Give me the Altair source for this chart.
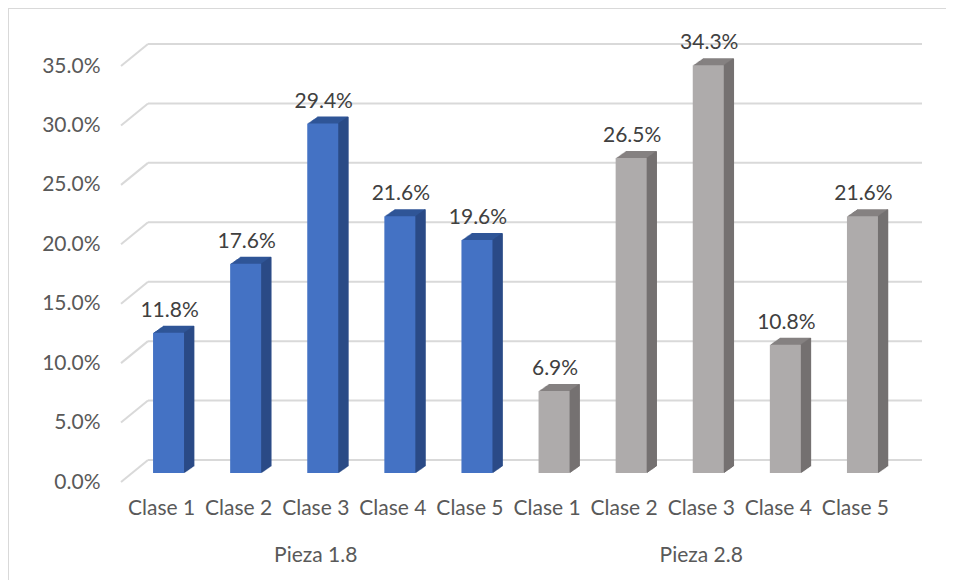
import altair as alt
import pandas as pd

# ---- data ----
piezas = ["Pieza 1.8"] * 5 + ["Pieza 2.8"] * 5
clases = ["Clase 1", "Clase 2", "Clase 3", "Clase 4", "Clase 5"] * 2
valores = [0.118, 0.176, 0.294, 0.216, 0.196, 0.069, 0.265, 0.343, 0.108, 0.216]
y_ticks = [0.0, 0.05, 0.10, 0.15, 0.20, 0.25, 0.30, 0.35]
grupos = ["Pieza 1.8", "Pieza 2.8"]
grupo_centro = ["Clase 3", "Clase 3"]

df = pd.DataFrame({"pieza": piezas, "clase": clases, "valor": valores})
df["key"] = df["pieza"] + "|" + df["clase"]
keys = list(df["key"])

df_grid = pd.DataFrame({"v": y_ticks})
df_grp = pd.DataFrame({"pieza": grupos, "key": [g + "|" + c for g, c in zip(grupos, grupo_centro)]})
df_one = pd.DataFrame({"a": [0]})

W, H = 771, 416
FONT = "Lato"
xs = alt.Scale(domain=keys, paddingInner=0, paddingOuter=0)
ys = alt.Scale(domain=[0, 0.35], nice=False, zero=True)

X_AXIS = alt.Axis(title=None, labelExpr="split(datum.label, '|')[1]", labelAngle=0, ticks=False,
                  tickSize=0, domain=False, grid=False, labelPadding=26, labelBaseline="middle",
                  labelFontSize=21, labelColor="#595959", labelFont=FONT)
Y_AXIS = alt.Axis(title=None, values=y_ticks, format=".1%", ticks=False, tickSize=0, domain=False,
                  grid=False, labelPadding=23, labelFontSize=21, labelColor="#595959", labelFont=FONT)

BLUE_F, BLUE_T, BLUE_S = "#4472C4", "#2F5597", "#2B4B86"
GRAY_F, GRAY_T, GRAY_S = "#AEABAB", "#858181", "#757171"

def col(front, other):
    return alt.condition(alt.datum.pieza == "Pieza 1.8", alt.value(front), alt.value(other))

X = alt.X("key:N", scale=xs, axis=X_AXIS, title=None)
Y = alt.Y("valor:Q", scale=ys, axis=Y_AXIS, title=None)
YG = alt.Y("v:Q", scale=ys, axis=Y_AXIS, title=None)

layers = []

# border of chart area (left and top edges)
layers.append(
    alt.Chart(df_one).mark_rule(color="#D9D9D9", strokeWidth=1).encode(
        x=alt.value(-114.5), y=alt.value(-58), y2=alt.value(600)
    )
)
layers.append(
    alt.Chart(df_one).mark_rule(color="#D9D9D9", strokeWidth=1).encode(
        x=alt.value(-115), x2=alt.value(900), y=alt.value(-57.5)
    )
)

# back wall gridlines
layers.append(
    alt.Chart(df_grid).mark_rule(color="#D9D9D9", strokeWidth=2, yOffset=-22).encode(
        y=YG, x=alt.value(25), x2=alt.value(799),
    )
)
# left-side diagonals
layers.append(
    alt.Chart(df_grid).mark_rule(color="#D9D9D9", strokeWidth=2, y2Offset=-22).encode(
        y=YG, y2="v:Q", x=alt.value(-2), x2=alt.value(25),
    )
)

# top faces (extrusion)
for k in range(1, 11):
    dy = -9 - 0.7 * k
    layers.append(
        alt.Chart(df).mark_bar(width=31, xOffset=7 + k, yOffset=dy, y2Offset=dy).encode(
            x=X, y=Y, color=col(BLUE_T, GRAY_T)
        )
    )
# side faces
for k in range(0, 10):
    dy = -9 - 0.7 * (k + 0.5)
    layers.append(
        alt.Chart(df).mark_bar(width=1.6, xOffset=7 + 15.5 + k + 0.5, yOffset=dy, y2Offset=dy).encode(
            x=X, y=Y, color=col(BLUE_S, GRAY_S)
        )
    )
# front faces
layers.append(
    alt.Chart(df).mark_bar(width=31, xOffset=7, yOffset=-9, y2Offset=-9).encode(
        x=X, y=Y, color=col(BLUE_F, GRAY_F)
    )
)
# data labels
layers.append(
    alt.Chart(df).mark_text(dx=8, dy=-25, baseline="alphabetic", fontSize=21,
                            color="#404040", font=FONT).encode(
        x=X, y=Y, text=alt.Text("valor:Q", format=".1%")
    )
)
# group labels
layers.append(
    alt.Chart(df_grp).mark_text(baseline="middle", fontSize=21, color="#595959", font=FONT).encode(
        x=X, y=alt.value(H + 74), text="pieza:N"
    )
)

chart = alt.layer(*layers).properties(
    width=W, height=H,
    autosize=alt.AutoSizeParams(type="none"),
    padding={"left": 115, "top": 58, "right": 52, "bottom": 98},
    background="white",
).configure_view(stroke=None)

chart.save("out.html", embed_options={"renderer": "svg", "actions": False})
